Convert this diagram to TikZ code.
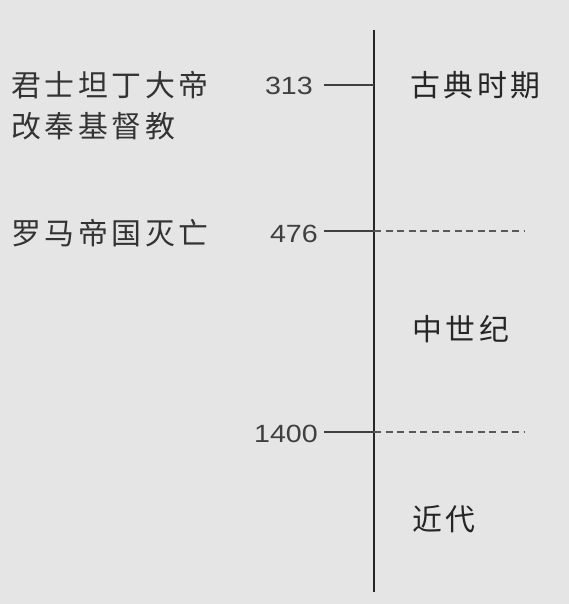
\documentclass[tikz,border=0pt]{standalone}
\usepackage{fontspec}
\setmainfont{Liberation Sans}
\newfontfamily\numfont[FakeStretch=1.15]{Liberation Sans}
\newfontfamily\cjk[LetterSpace=12]{Noto Sans CJK SC}
\usetikzlibrary{positioning}
\tikzset{
  yearlbl/.style={font=\numfont\fontsize{25}{27}\selectfont, text=black!75, inner sep=0pt},
  eventlbl/.style={font=\cjk\fontsize{30}{32}\selectfont, text=black!80, inner sep=0pt, anchor=west},
  periodlbl/.style={font=\cjk\fontsize{30}{32}\selectfont, text=black!85, inner sep=0pt, anchor=west},
  tick/.style={line width=2pt, black!75},
  era/.style={line width=2pt, black!65, dash pattern=on 7bp off 4.5bp}
}
\begin{document}
\begin{tikzpicture}[x=1bp,y=-1bp]
			\fill[black!10] (0,0) rectangle (569,604);
			\useasboundingbox (0,0) rectangle (569,604);
			% axis
			\coordinate (top) at (374,30);
			\coordinate (bot) at (374,592);
			\draw[line width=2pt, black!85] (top) -- (bot);
			%
			\coordinate (t313) at (374,85);
			\coordinate (t476) at (374,231);
			\coordinate (t1400) at (374,432);
			\coordinate (e476) at (525,231);
			\coordinate (e1400) at (525,432);
			%
			\node[yearlbl, anchor=east] at (313,86) (y313) {313};
			\node[yearlbl, anchor=east] at (318,234) (y476) {476};
			\node[yearlbl, anchor=east] at (318,434) (y1400) {1400};
			%
			\draw[tick] (y313.east) ++(11,-1) coordinate (s313) -- (t313);
			\draw[tick] (y476.east) ++(6,-3) coordinate (s476) -- (t476);
			\draw[tick] (y1400.east) ++(6,-2) coordinate (s1400) -- (t1400);
			\draw[era] (t476) -- (e476);
			\draw[era] (t1400) -- (e1400);
			%
			\node[eventlbl] at (11,85) (ev1) {君士坦丁大帝};
			\node[eventlbl] at (11,126) (ev2) {改奉基督教};
			\node[eventlbl] at (11,233) (ev3) {罗马帝国灭亡};
			%
			\node[periodlbl] at (410,85) (p1) {古典时期};
			\node[periodlbl] at (412,329) (p2) {中世纪};
			\node[periodlbl] at (412,519) (p3) {近代};
		\end{tikzpicture}
\end{document}
